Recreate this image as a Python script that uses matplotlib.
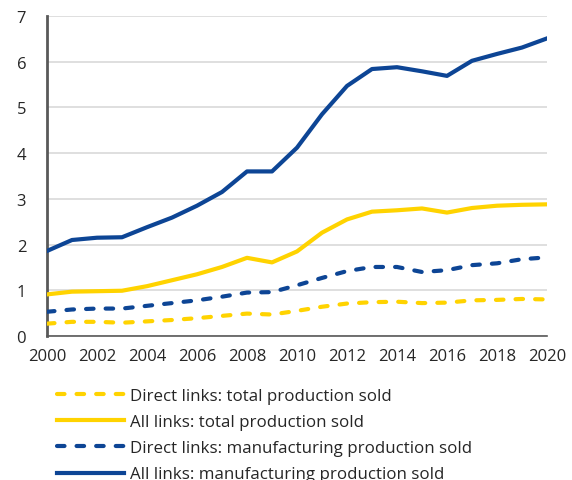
import matplotlib
matplotlib.use("Agg")
import matplotlib.pyplot as plt

years = list(range(2000, 2021))
direct_total = [0.27, 0.31, 0.31, 0.29, 0.32, 0.35, 0.39, 0.44, 0.49, 0.47, 0.55,
                0.64, 0.71, 0.74, 0.75, 0.72, 0.73, 0.78, 0.79, 0.81, 0.80]
all_total = [0.91, 0.97, 0.98, 0.99, 1.09, 1.22, 1.35, 1.51, 1.71, 1.61, 1.85,
             2.26, 2.55, 2.72, 2.75, 2.79, 2.70, 2.80, 2.85, 2.87, 2.88]
direct_manuf = [0.53, 0.58, 0.60, 0.60, 0.66, 0.72, 0.78, 0.86, 0.95, 0.96, 1.11,
                1.27, 1.42, 1.51, 1.51, 1.40, 1.44, 1.55, 1.59, 1.68, 1.72]
all_manuf = [1.86, 2.10, 2.15, 2.16, 2.38, 2.59, 2.85, 3.15, 3.60, 3.60, 4.12,
             4.85, 5.47, 5.84, 5.88, 5.79, 5.69, 6.02, 6.17, 6.31, 6.51]
labels = ["Direct links: total production sold",
          "All links: total production sold",
          "Direct links: manufacturing production sold",
          "All links: manufacturing production sold"]

yellow = "#FFD300"
blue = "#0D4595"

plt.rcParams['font.family'] = ['Open Sans', 'DejaVu Sans']
fig = plt.figure(figsize=(5.72, 4.81), dpi=100)
ax = fig.add_axes([47/572, 1-337/481, 500/572, 320/481])

lw = 3.0
dash = (0, (1.8, 2.9))
ax.plot(years, direct_total, color=yellow, lw=lw, ls=dash, dash_capstyle='round',
        label=labels[0], zorder=3)
ax.plot(years, all_total, color=yellow, lw=lw, ls='-', label=labels[1], zorder=3)
ax.plot(years, direct_manuf, color=blue, lw=lw, ls=dash, dash_capstyle='round',
        label=labels[2], zorder=3)
ax.plot(years, all_manuf, color=blue, lw=lw, ls='-', label=labels[3], zorder=3)

ax.set_xlim(2000, 2020)
ax.set_ylim(0, 7)
ax.set_xticks(range(2000, 2021, 2))
ax.set_yticks(range(0, 8))
ax.grid(axis='y', color='#d9d9d9', lw=1.2, zorder=0)
for s in ['top', 'right']:
    ax.spines[s].set_visible(False)
ax.spines['left'].set_color('#595959')
ax.spines['left'].set_linewidth(2)
ax.spines['bottom'].set_color('#595959')
ax.spines['bottom'].set_linewidth(1.2)
ax.tick_params(length=0, labelsize=12, colors='#262626', pad=9)
ax.tick_params(axis='y', pad=15)

leg = fig.legend(loc='upper left', bbox_to_anchor=(57/572, 1-389/481), frameon=False,
                 fontsize=12.2, handlelength=3.95, handletextpad=0.35, labelspacing=0.6,
                 borderaxespad=0, borderpad=0)
for t in leg.get_texts():
    t.set_color('#262626')

fig.savefig("out.png", dpi=100)
